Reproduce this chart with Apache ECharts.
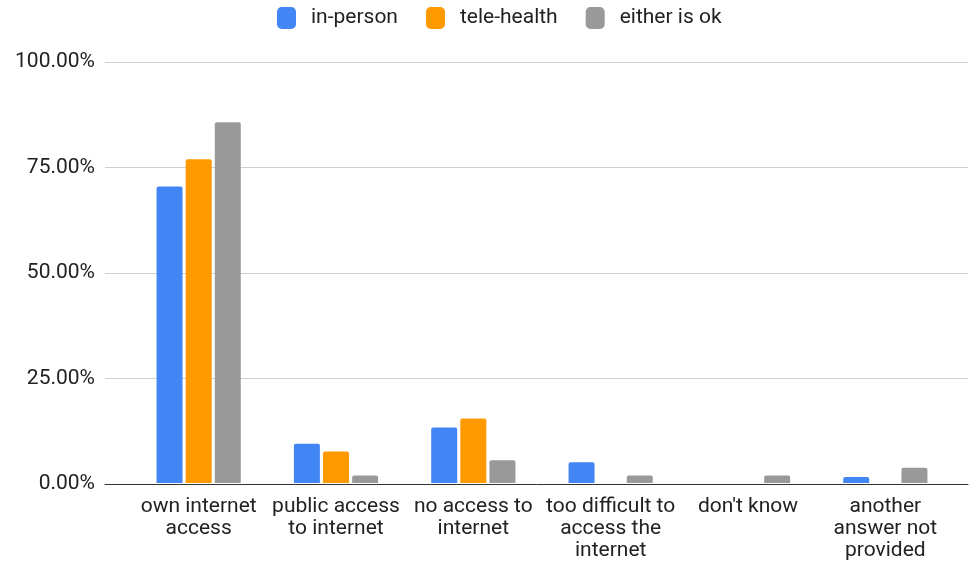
<!DOCTYPE html>
<html>
<head>
<meta charset="utf-8">
<script src="https://cdn.jsdelivr.net/npm/echarts@6/dist/echarts.min.js"></script>
<style>
html,body{margin:0;padding:0;background:#fff;}
#chart{width:969px;height:562px;}
</style>
</head>
<body>
<div id="chart"></div>
<script>
const categories = [
  "own internet\naccess",
  "public access\nto internet",
  "no access to\ninternet",
  "too difficult to\naccess the\ninternet",
  "don't know",
  "another\nanswer not\nprovided"
];
const seriesNames = ["in-person", "tele-health", "either is ok"];
const inPerson   = [70.4, 9.3, 13.2, 4.9, 0, 1.4];
const teleHealth = [76.9, 7.5, 15.3, 0, 0, 0];
const eitherOk   = [85.7, 1.8, 5.4, 1.8, 1.8, 3.6];
const yTicks = { min: 0, max: 100, interval: 25 };
const colors = ["#4285F4", "#FF9900", "#999999"];

const chart = echarts.init(document.getElementById('chart'));
const font = 'Roboto, "Liberation Sans", Arial, sans-serif';
const seriesData = [inPerson, teleHealth, eitherOk];

chart.setOption({
  animation: false,
  textStyle: { fontFamily: font },
  legend: {
    top: 2,
    left: 272,
    itemWidth: 19,
    itemHeight: 22,
    itemGap: 28,
    icon: 'roundRect',
    textStyle: { fontSize: 21, color: '#222', padding: [0, 0, 0, 10], fontFamily: font },
    data: seriesNames
  },
  grid: [
    { left: 105, right: 1, top: 62, bottom: 78 },
    { left: 130, right: 15, top: 62, bottom: 78 }
  ],
  xAxis: [
    {
      type: 'category', gridIndex: 0, data: categories,
      axisLine: { lineStyle: { color: '#333', width: 1 } },
      axisTick: { show: false }, axisLabel: { show: false }
    },
    {
      type: 'category', gridIndex: 1, data: categories,
      axisLine: { show: false }, axisTick: { show: false },
      axisLabel: { color: '#222', fontSize: 21, lineHeight: 22, margin: 13, interval: 0, fontFamily: font }
    }
  ],
  yAxis: [
    {
      type: 'value', gridIndex: 0, min: yTicks.min, max: yTicks.max, interval: yTicks.interval,
      axisLine: { show: false }, axisTick: { show: false },
      splitLine: { lineStyle: { color: '#cfcfcf', width: 1 } },
      axisLabel: { color: '#222', fontSize: 21, margin: 10, fontFamily: font,
        formatter: v => v.toFixed(2) + '%' }
    },
    {
      type: 'value', gridIndex: 1, min: yTicks.min, max: yTicks.max, interval: yTicks.interval,
      show: false
    }
  ],
  series: seriesNames.map((name, i) => ({
    name: name,
    type: 'bar',
    xAxisIndex: 1,
    yAxisIndex: 1,
    data: seriesData[i],
    barWidth: 26,
    barGap: '12%',
    itemStyle: { color: colors[i], borderRadius: [2, 2, 0, 0] }
  })),
  color: colors
});
</script>
</body>
</html>
